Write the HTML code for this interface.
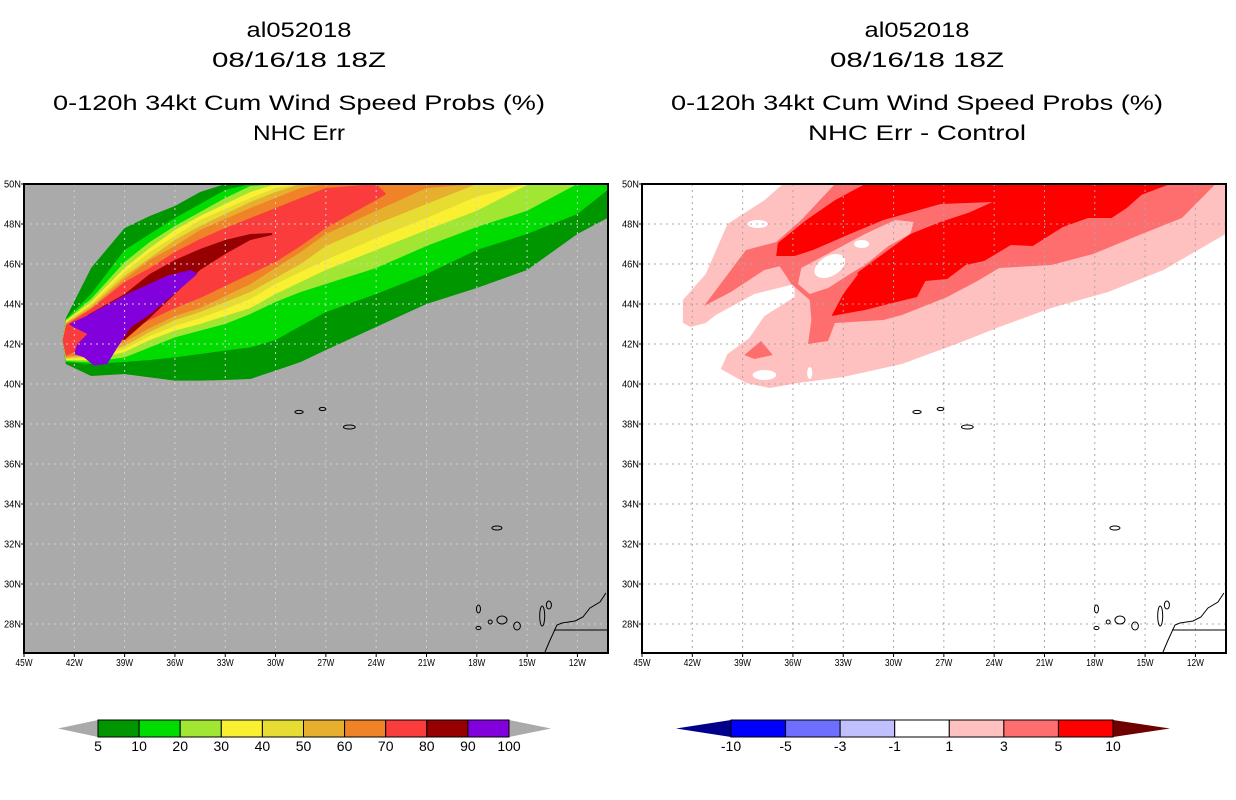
<!DOCTYPE html>
<html><head><meta charset="utf-8"><style>
html,body{margin:0;padding:0;background:#fff;}
svg{display:block;font-family:"Liberation Sans",sans-serif;}
</style></head><body>
<svg id="chart" width="1236" height="800" viewBox="0 0 1236 800" xmlns="http://www.w3.org/2000/svg"></svg>
<script>
// ---- axis data ----
const lonTicks = [-45,-42,-39,-36,-33,-30,-27,-24,-21,-18,-15,-12];
const latTicks = [28,30,32,34,36,38,40,42,44,46,48,50];
// ---- left panel: probability bands (lat of top/bottom contour at each lon) ----
const bandLons = [-42.5,-41,-39,-37.5,-36,-34.5,-33,-31.5,-30,-28.5,-27,-24,-21,-18,-15,-12,-10.2];
const p5Top  = [43.3,45.8,47.8,48.4,48.9,49.6,50,50,50,50,50,50,50,50,50,50,50];
const p5Bot  = [41.0,40.4,40.5,40.33,40.17,40.17,40.2,40.25,40.67,41.1,41.7,42.85,44.0,44.8,45.7,47.5,48.3];
const p10Top = [43.25,44.5,46.7,47.5,48.3,49.0,49.7,50,50,50,50,50,50,50,50,50,50];
const p10Bot = [41.1,41.0,41.1,41.2,41.33,41.5,41.67,41.83,42.2,42.9,43.6,44.5,45.5,46.7,47.5,48.5,49.7];
const p20Top = [43.2,44.25,46.1,47.1,47.9,48.6,49.3,49.9,50,50,50,50,50,50,50,50,50];
const p20Bot = [41.15,41.1,41.33,41.83,42.33,42.67,43.0,43.5,44.1,44.6,45.0,45.8,46.9,47.85,48.66,50,50];
const p30Top = [43.15,44.1,45.8,46.8,47.7,48.4,49.0,49.6,50,50,50,50,50,50,50,50,50];
const p30Bot = [41.2,41.2,41.6,42.2,42.67,43.0,43.4,43.8,44.5,45.1,45.7,46.7,47.7,48.66,49.95,50,50];
const p40Top = [43.1,44.0,45.6,46.6,47.4,48.2,48.75,49.3,49.8,50,50,50,50,50,50,50,50];
const p40Bot = [41.25,41.3,41.75,42.4,42.9,43.3,43.75,44.25,45.0,45.6,46.2,47.3,48.3,49.37,50,50,50];
const p50Top = [43.05,43.9,45.4,46.3,47.2,47.9,48.5,49.1,49.6,50,50,50,50,50,50,50,50];
const p50Bot = [41.3,41.4,41.9,42.6,43.2,43.6,44.1,44.6,45.3,46.0,46.9,48.0,49.0,50,50,50,50];
const p60Top = [43.0,43.8,45.25,46.2,46.9,47.7,48.25,48.8,49.3,49.8,50,50,50,50,50,50,50];
const p60Bot = [41.35,41.5,42.1,42.8,43.4,43.8,44.4,45.0,45.8,46.6,47.5,48.66,49.8,50,50,50,50];
const p70Lons = [-42.5,-41,-39,-37.5,-36,-34.5,-33,-31.5,-30,-28.5,-27,-24,-23.4];
const p70Top = [42.95,43.75,45.1,45.8,46.6,47.25,47.8,48.3,48.8,49.3,49.8,50,49.5];
const p70Bot = [41.4,42.0,42.5,43.2,43.8,44.3,44.9,45.5,46.1,46.9,47.8,49.2,49.5];
const p80Lons = [-41.2,-39,-37.5,-36,-34.5,-33,-31.5,-30.2];
const p80Top = [43.45,44.5,45.5,46.2,46.75,47.2,47.5,47.55];
const p80Bot = [42.6,42.2,43.3,44.5,45.7,46.5,47.2,47.45];
const p90Lon = [-41.22,-39.04,-36.45,-35.06,-34.66,-36.05,-37.45,-38.64,-39.43,-40.03,-40.83,-41.42,-42.02,-41.82,-41.22,-42.02,-42.32];
const p90Lat = [43.42,44.42,45.42,45.7,45.5,44.5,43.5,42.83,41.83,41.0,40.92,41.33,41.5,42.0,42.5,42.83,43.0];
// ---- right panel: difference contours ----
const d1Lon = [-42.56,-42.56,-41.2,-39.9,-37.7,-36.6,-10.2,-10.2,-13.9,-17.2,-20.6,-23.7,-26.1,-29.5,-33,-35.7,-37.4,-38.8,-40.3,-39.9,-38.6,-37.7,-35.9,-35.9,-38.3,-40.6,-41.2,-42.1];
const d1Lat = [43.05,44.2,45.5,48.0,49.19,50,50,47.5,45.7,44.6,43.8,42.85,42.05,41.0,40.35,40.05,39.8,40.05,40.75,41.5,42.3,43.4,44.35,45.0,44.5,43.45,43.05,42.85];
const d3Lon = [-41.3,-38.8,-37,-35.5,-33.5,-10.8,-12.8,-15.2,-18.1,-20.6,-23.7,-25,-26.8,-29.5,-30.6,-33.5,-33.9,-35.1,-34.9,-33.5,-31.5,-29,-28.8,-30.6,-32.8,-35.5,-37.7,-39.7];
const d3Lat = [43.9,46.7,47.1,48.2,50,50,48.3,47.5,46.5,45.95,45.8,45.15,44.35,43.45,43.2,43.05,42.15,42.0,43.2,44.8,46.15,47.7,48.2,48.2,47.5,46.15,45.7,44.6];
const d3bLon = [-38.9,-37.9,-37.2,-38.3];
const d3bLat = [41.45,42.15,41.45,41.25];
const d5Lon = [-37,-36.9,-35.2,-33.5,-31.7,-13.5,-15.2,-16.1,-17,-18.4,-19.9,-21.7,-23,-24.6,-25.7,-26.8,-28.1,-28.6,-30.3,-31.7,-33.7,-33,-32.1,-34.8,-35.9];
const d5Lat = [46.4,47.05,48.2,49.19,50,50,49.46,48.8,48.3,48.3,47.85,46.9,46.95,46.15,45.95,45.25,45.15,44.35,44.0,43.7,43.4,44.5,45.5,46.2,46.4];
const gap3Lon = [-35.9,-34.8,-32.6,-30.6,-27.2,-24.1,-25.5,-27.2,-29,-30.8,-32.1,-33,-33.7,-34.9,-35,-36.1,-37];
const gap3Lat = [46.4,46.7,47.5,48.2,49.0,49.1,48.57,48.1,47.5,46.4,45.6,44.6,43.4,43.2,44.2,45.0,46.15];
const gap1Lon = [-35.5,-33.5,-31.7,-29.9,-28.8,-29,-30.3,-31.7,-32.6,-33.9,-35,-35.7];
const gap1Lat = [45.8,46.7,47.5,48.2,48.1,47.5,46.9,45.95,45.5,44.8,44.5,45.0];
const holeLon = [-33.8,-31.9,-38.1,-37.7,-35];
const holeLat = [45.9,47.0,48.0,40.45,40.55];
const holeRLon = [1.0,0.45,0.6,0.7,0.15];
const holeRLat = [0.5,0.2,0.2,0.25,0.3];
// ---- geography ----
const coastLon = [-13.93,-13.63,-13.22,-12.92,-12.14,-11.67,-11.25,-10.65,-10.3];
const coastLat = [26.6,27.2,27.95,28.05,28.15,28.35,28.8,29.1,29.55];
const islandLon = [-28.6,-27.2,-25.6,-16.8,-17.9,-17.9,-17.2,-16.5,-15.6,-14.1,-13.7];
const islandLat = [38.6,38.75,37.85,32.8,28.75,27.8,28.1,28.2,27.9,28.4,28.95];
const islandRx = [0.25,0.2,0.35,0.3,0.12,0.15,0.12,0.3,0.2,0.15,0.15];
const islandRy = [0.08,0.08,0.1,0.1,0.2,0.08,0.1,0.2,0.2,0.5,0.2];
// ---- colorbars ----
const probLabels = ["5","10","20","30","40","50","60","70","80","90","100"];
const probColors = ["#009600","#00dc00","#a0e632","#faf032","#e6dc32","#e6af2d","#f08228","#fa3c3c","#960000","#8200dc"];
const diffLabels = ["-10","-5","-3","-1","1","3","5","10"];
const diffColors = ["#0000ff","#6e6eff","#c0c0ff","#ffffff","#ffc0c0","#ff6e6e","#ff0000"];

const NS="http://www.w3.org/2000/svg";
const svg=document.getElementById('chart');
function mk(tag,attrs,parent){const e=document.createElementNS(NS,tag);for(const k in attrs)e.setAttribute(k,attrs[k]);(parent||svg).appendChild(e);return e;}
const PX0=[24,642], PY0=184, PW=584, PH=469, DX=16.77, DY=20;
function X(p,lon){return PX0[p]+(lon+45)*DX;}
function Y(lat){return PY0+(50-lat)*DY;}
function polyPts(p,lons,lats){return lons.map((l,i)=>X(p,l).toFixed(1)+','+Y(lats[i]).toFixed(1)).join(' ');}
function bandPts(p,lons,top,bot){const a=[],b=[];lons.forEach((l,i)=>{a.push([l,top[i]]);b.push([l,bot[i]]);});
  a.unshift([lons[0]-0.2,(top[0]+bot[0])/2]);const all=a.concat(b.reverse());
  return all.map(q=>X(p,q[0]).toFixed(1)+','+Y(q[1]).toFixed(1)).join(' ');}

const titles=[["al052018","08/16/18 18Z","0-120h 34kt Cum Wind Speed Probs (%)","NHC Err"],["al052018","08/16/18 18Z","0-120h 34kt Cum Wind Speed Probs (%)","NHC Err - Control"]];
const tY=[37,67,110,140], tW=[[105,174,492,92],[105,174,492,218]];
for(let p=0;p<2;p++){
  const cx=PX0[p]+PW/2-17;
  titles[p].forEach((t,i)=>{const e=mk('text',{x:cx,y:tY[i],'text-anchor':'middle','font-size':21,textLength:tW[p][i],lengthAdjust:'spacingAndGlyphs',fill:'#000'});
    
    
    e.textContent=t;});
  const g=mk('g',{});
  
  
  const cid='clip'+p;const cp=mk('clipPath',{id:cid},g);mk('rect',{x:PX0[p],y:PY0,width:PW,height:PH},cp);
  const bg=mk('rect',{x:PX0[p],y:PY0,width:PW,height:PH,fill:p==0?'#aaaaaa':'#ffffff'},g);
  
  
  const fg=mk('g',{'clip-path':'url(#'+cid+')'},g);
  function poly(pts,fill,name){const e=mk('polygon',{points:pts,fill:fill},fg);
    
    return e;}
  if(p==0){
    const bands=[[p5Top,p5Bot],[p10Top,p10Bot],[p20Top,p20Bot],[p30Top,p30Bot],[p40Top,p40Bot],[p50Top,p50Bot],[p60Top,p60Bot]];
    bands.forEach((b,i)=>poly(bandPts(0,bandLons,b[0],b[1]),probColors[i],'prob-band-'+probLabels[i]));
    poly(bandPts(0,p70Lons,p70Top,p70Bot),probColors[7],'prob-band-70');
    poly(bandPts(0,p80Lons,p80Top,p80Bot),probColors[8],'prob-band-80');
    poly(polyPts(0,p90Lon,p90Lat),probColors[9],'prob-band-90');
  } else {
    poly(polyPts(1,d1Lon,d1Lat),'#ffc0c0','diff-band-1');
    poly(polyPts(1,d3Lon,d3Lat),'#ff6e6e','diff-band-3');
    poly(polyPts(1,d3bLon,d3bLat),'#ff6e6e','diff-band-3-small');
    poly(polyPts(1,d5Lon,d5Lat),'#ff0000','diff-band-5');
    poly(polyPts(1,gap3Lon,gap3Lat),'#ff6e6e','diff-band-3-strip');
    poly(polyPts(1,gap1Lon,gap1Lat),'#ffc0c0','diff-band-1-strip');
    holeLon.forEach((l,i)=>{const e=mk('ellipse',{cx:X(1,l),cy:Y(holeLat[i]),rx:holeRLon[i]*DX,ry:holeRLat[i]*DY,fill:'#fff',transform:i==0?`rotate(-30 ${X(1,l)} ${Y(holeLat[i])})`:''},fg);
      
      });
  }
  const gc=p==0?'#cfcfcf':'#a8a8a8';
  lonTicks.slice(1).forEach(l=>{const e=mk('line',{x1:X(p,l),x2:X(p,l),y1:PY0,y2:PY0+PH,stroke:gc,'stroke-width':1,'stroke-dasharray':'2,4'},fg);
    
    });
  latTicks.slice(0,-1).forEach(l=>{const e=mk('line',{x1:PX0[p],x2:PX0[p]+PW,y1:Y(l),y2:Y(l),stroke:gc,'stroke-width':1,'stroke-dasharray':'2,4'},fg);
    
    });
  const cl=mk('polyline',{points:polyPts(p,coastLon,coastLat),fill:'none',stroke:'#000','stroke-width':1},fg);
  
  
  const bd=mk('line',{x1:X(p,-13.4),x2:X(p,-10.2),y1:Y(27.7),y2:Y(27.7),stroke:'#000','stroke-width':1},fg);
  
  
  islandLon.forEach((l,i)=>{const e=mk('ellipse',{cx:X(p,l),cy:Y(islandLat[i]),rx:islandRx[i]*DX,ry:islandRy[i]*DY,fill:'none',stroke:'#000','stroke-width':1},fg);
    
    });
  const fr=mk('rect',{x:PX0[p],y:PY0,width:PW,height:PH,fill:'none',stroke:'#000','stroke-width':2},g);
  
  
  lonTicks.forEach(l=>{mk('line',{x1:X(p,l),x2:X(p,l),y1:PY0+PH,y2:PY0+PH+4,stroke:'#000'},g);
    const e=mk('text',{x:X(p,l),y:PY0+PH+13,'text-anchor':'middle','font-size':10,fill:'#000',textLength:17,lengthAdjust:'spacingAndGlyphs'},g);
    
    
    e.textContent=Math.abs(l)+'W';});
  latTicks.forEach(l=>{mk('line',{x1:PX0[p]-3,x2:PX0[p],y1:Y(l),y2:Y(l),stroke:'#000'},g);
    const e=mk('text',{x:PX0[p]-3,y:Y(l)+3.5,'text-anchor':'end','font-size':10,fill:'#000',textLength:17,lengthAdjust:'spacingAndGlyphs'},g);
    
    
    e.textContent=l+'N';});
}
function colorbar(x0,x1,tl,tr,colors,labels,lc,rc,name){
  const g=mk('g',{});
  
  
  const y0=720,y1=737,w=(x1-x0)/colors.length;
  mk('polygon',{points:`${tl},${(y0+y1)/2} ${x0},${y0} ${x0},${y1}`,fill:lc},g);
  mk('polygon',{points:`${tr},${(y0+y1)/2} ${x1},${y0} ${x1},${y1}`,fill:rc},g);
  colors.forEach((c,i)=>{const r=mk('rect',{x:x0+i*w,y:y0,width:w,height:y1-y0,fill:c,stroke:'#000','stroke-width':1},g);
    
    });
  labels.forEach((t,i)=>{const e=mk('text',{x:x0+i*w,y:751,'text-anchor':'middle','font-size':14,fill:'#000'},g);
    
    
    e.textContent=t;});
}
colorbar(98,509,58,551,probColors,probLabels,'#aaaaaa','#aaaaaa','probability-colorbar');
colorbar(731,1113,676,1170,diffColors,diffLabels,'#00008b','#6e0000','difference-colorbar');
</script>
</body></html>
